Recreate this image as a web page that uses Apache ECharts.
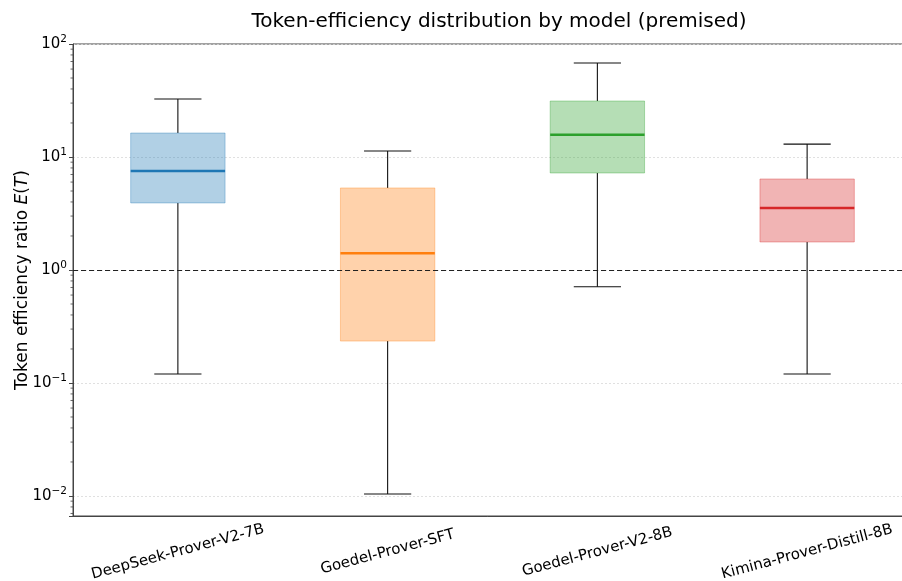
<!DOCTYPE html>
<html>
<head>
<meta charset="utf-8">
<script src="https://cdn.jsdelivr.net/npm/echarts@6/dist/echarts.min.js"></script>
</head>
<body style="margin:0">
<div id="main" style="width: 902px;height:581px;"></div>
<script type="text/javascript">
    // models on the x axis
    var models = ['DeepSeek-Prover-V2-7B', 'Goedel-Prover-SFT', 'Goedel-Prover-V2-8B', 'Kimina-Prover-Distill-8B'];
    // box stats: low whisker, q1, median, q3, high whisker
    var lowWhisker = [0.120, 0.0104, 0.71, 0.120];
    var q1 = [3.92, 0.235, 7.22, 1.77];
    var median = [7.52, 1.41, 15.7, 3.54];
    var q3 = [16.3, 5.32, 31.3, 6.39];
    var highWhisker = [32.6, 11.3, 67.9, 13.0];
    var colors = ['#1f77b4', '#ff7f0e', '#2ca02c', '#d62728'];
    var fills = ['rgba(31,119,180,0.35)', 'rgba(255,127,14,0.35)', 'rgba(44,160,44,0.35)', 'rgba(214,39,40,0.35)'];
    // tick labels (powers of ten) and minor tick values
    var majorTicks = [0.01, 0.1, 1, 10, 100];
    var majorLabels = ['{b|10}{s|\u22122}', '{b|10}{s|\u22121}', '{b|10}{s|0}', '{b|10}{s|1}', '{b|10}{s|2}'];
    var minorTicks = [0.007, 0.008, 0.009,
        0.02, 0.03, 0.04, 0.05, 0.06, 0.07, 0.08, 0.09,
        0.2, 0.3, 0.4, 0.5, 0.6, 0.7, 0.8, 0.9,
        2, 3, 4, 5, 6, 7, 8, 9,
        20, 30, 40, 50, 60, 70, 80, 90];
    var refLine = 1;

    var myChart = echarts.init(document.getElementById('main'));

    var boxData = models.map(function (m, i) {
        return [i, lowWhisker[i], q1[i], median[i], q3[i], highWhisker[i]];
    });

    function renderBox(params, api) {
        var i = api.value(0);
        var band = api.size([1, 0])[0];
        var w = band * 0.45;
        var pLow = api.coord([i, api.value(1)]);
        var pQ1 = api.coord([i, api.value(2)]);
        var pMed = api.coord([i, api.value(3)]);
        var pQ3 = api.coord([i, api.value(4)]);
        var pHigh = api.coord([i, api.value(5)]);
        var x = pMed[0];
        var black = {stroke: '#111', lineWidth: 1.1};
        return {
            type: 'group',
            children: [
                {type: 'line', shape: {x1: x, y1: pLow[1], x2: x, y2: pQ1[1]}, style: black},
                {type: 'line', shape: {x1: x, y1: pQ3[1], x2: x, y2: pHigh[1]}, style: black},
                {type: 'line', shape: {x1: x - w / 4, y1: pLow[1], x2: x + w / 4, y2: pLow[1]}, style: black},
                {type: 'line', shape: {x1: x - w / 4, y1: pHigh[1], x2: x + w / 4, y2: pHigh[1]}, style: black},
                {type: 'rect', shape: {x: x - w / 2, y: pQ3[1], width: w, height: pQ1[1] - pQ3[1]},
                    style: {fill: fills[i], stroke: fills[i], lineWidth: 1}},
                {type: 'line', shape: {x1: x - w / 2, y1: pMed[1], x2: x + w / 2, y2: pMed[1]},
                    style: {stroke: colors[i], lineWidth: 2.5}}
            ]
        };
    }

    function renderMinor(params, api) {
        var band = api.size([1, 0])[0];
        var x0 = api.coord([0, api.value(1)])[0] - band / 2;
        var y = api.coord([0, api.value(1)])[1];
        return {type: 'line', shape: {x1: x0 - 2.5, y1: y, x2: x0, y2: y}, style: {stroke: '#444', lineWidth: 0.8}};
    }

    var option = {
        animation: false,
        title: {
            text: 'Token-efficiency distribution by model (premised)',
            left: 494, textAlign: 'center', top: 7,
            textStyle: {fontFamily: 'DejaVu Sans', fontSize: 20, fontWeight: 'normal', color: '#000'}
        },
        grid: {left: 73, width: 839, top: 44, bottom: 65, show: true, borderColor: '#444', borderWidth: 1,
            containLabel: false, outerBoundsMode: 'none'},
        xAxis: {
            type: 'category',
            data: models,
            axisLine: {lineStyle: {color: '#444'}},
            axisTick: {alignWithLabel: true, length: 4, lineStyle: {color: '#444'}},
            axisLabel: {rotate: 15, interval: 0, fontFamily: 'DejaVu Sans', fontSize: 15, color: '#000', margin: 36, align: 'center', verticalAlign: 'middle'}
        },
        yAxis: {
            type: 'log',
            logBase: 10,
            min: 0.00665,
            max: 100,
            name: 'Token efficiency ratio {i|E}({i|T})',
            nameLocation: 'middle',
            nameGap: 42,
            nameMoveOverlap: false,
            nameTextStyle: {fontFamily: 'DejaVu Sans', fontSize: 17, color: '#000',
                rich: {i: {fontFamily: 'DejaVu Sans', fontSize: 17, fontStyle: 'italic', color: '#000'}}},
            axisLine: {show: true, lineStyle: {color: '#444'}},
            axisTick: {show: true, length: 4, lineStyle: {color: '#444'}},
            axisLabel: {
                fontFamily: 'DejaVu Sans', fontSize: 15, color: '#000', margin: 6,
                formatter: function (v) {
                    for (var k = 0; k < majorTicks.length; k++) {
                        if (Math.abs(Math.log10(v) - Math.log10(majorTicks[k])) < 1e-6) return majorLabels[k];
                    }
                    return '';
                },
                rich: {
                    b: {fontFamily: 'DejaVu Sans', fontSize: 15, color: '#000'},
                    s: {fontFamily: 'DejaVu Sans', fontSize: 10.5, color: '#000', padding: [0, 0, 9, 0]}
                }
            },
            splitLine: {show: true, lineStyle: {color: '#d8d8d8', type: [2, 2], width: 0.8}}
        },
        series: [{
            type: 'custom',
            renderItem: renderBox,
            data: boxData,
            encode: {x: 0, y: [1, 2, 3, 4, 5]},
            z: 3,
            markLine: {
                silent: true,
                symbol: 'none',
                label: {show: false},
                lineStyle: {color: '#222', type: [5, 3], width: 1},
                data: [{yAxis: refLine}]
            }
        }, {
            type: 'custom',
            renderItem: renderMinor,
            data: minorTicks.map(function (v) { return [0, v]; }),
            encode: {x: 0, y: 1},
            clip: false,
            silent: true
        }]
    };
    myChart.setOption(option);
</script>
</body>
</html>
